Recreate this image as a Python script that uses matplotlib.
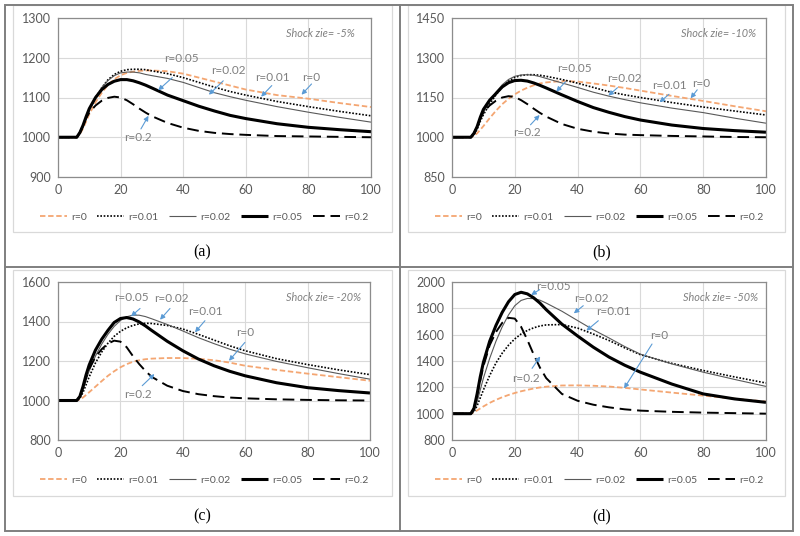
import matplotlib
matplotlib.use("Agg")
import matplotlib.pyplot as plt
from matplotlib.lines import Line2D
from matplotlib.patches import Rectangle

plt.rcParams["font.family"] = ["Lato", "DejaVu Sans"]

W, H = 800, 536

# time axis shared by all series
T = [0, 5, 6, 7, 8, 9, 10, 12, 14, 16, 18, 20, 22, 24, 26, 28, 30,
     35, 40, 45, 50, 55, 60, 70, 80, 90, 100]

labels = ["r=0", "r=0.01", "r=0.02", "r=0.05", "r=0.2"]

# (a) shock -5%
a_r0 = [1000, 1000, 1000, 1008, 1022, 1040, 1058, 1088, 1112, 1132, 1146, 1156, 1162, 1165, 1167, 1168, 1168,
        1166, 1160, 1150, 1140, 1130, 1120, 1106, 1097, 1086, 1076]
a_r001 = [1000, 1000, 1000, 1010, 1028, 1050, 1070, 1100, 1125, 1145, 1158, 1166, 1170, 1171, 1171, 1170, 1167,
          1160, 1150, 1138, 1126, 1115, 1106, 1090, 1077, 1065, 1054]
a_r002 = [1000, 1000, 1000, 1010, 1028, 1050, 1070, 1100, 1125, 1143, 1155, 1162, 1164, 1164, 1162, 1158, 1155,
          1148, 1138, 1125, 1112, 1102, 1093, 1077, 1063, 1050, 1038]
a_r005 = [1000, 1000, 1000, 1012, 1030, 1052, 1072, 1100, 1120, 1133, 1141, 1145, 1145, 1142, 1137, 1131, 1124,
          1106, 1092, 1078, 1066, 1055, 1047, 1034, 1025, 1019, 1014]
a_r02 = [1000, 1000, 1000, 1012, 1030, 1048, 1062, 1080, 1092, 1099, 1102, 1100, 1093, 1083, 1072, 1062, 1053,
         1036, 1024, 1016, 1011, 1008, 1006, 1003, 1002, 1001, 1000]

# (b) shock -10%
b_r0 = [1000, 1000, 1000, 1005, 1015, 1028, 1042, 1072, 1100, 1125, 1145, 1162, 1176, 1187, 1196, 1203, 1207,
        1212, 1210, 1203, 1195, 1186, 1176, 1156, 1137, 1117, 1098]
b_r001 = [1000, 1000, 1000, 1010, 1030, 1060, 1085, 1125, 1160, 1190, 1212, 1226, 1233, 1236, 1236, 1234, 1230,
          1218, 1204, 1188, 1172, 1160, 1150, 1131, 1114, 1099, 1084]
b_r002 = [1000, 1000, 1000, 1012, 1035, 1065, 1092, 1135, 1170, 1198, 1218, 1230, 1235, 1236, 1234, 1229, 1222,
          1205, 1188, 1170, 1155, 1142, 1130, 1110, 1093, 1072, 1053]
b_r005 = [1000, 1000, 1000, 1015, 1040, 1075, 1105, 1140, 1165, 1190, 1206, 1214, 1215, 1212, 1205, 1196, 1186,
          1160, 1135, 1112, 1094, 1078, 1065, 1046, 1033, 1025, 1019]
b_r02 = [1000, 1000, 1000, 1015, 1040, 1070, 1095, 1120, 1138, 1150, 1155, 1152, 1140, 1125, 1108, 1092, 1078,
         1050, 1032, 1021, 1014, 1010, 1008, 1005, 1003, 1001, 1000]

# (c) shock -20%
c_r0 = [1000, 1000, 1000, 1005, 1015, 1028, 1042, 1070, 1098, 1125, 1148, 1168, 1184, 1196, 1204, 1209, 1212,
        1215, 1215, 1211, 1204, 1192, 1176, 1155, 1136, 1118, 1100]
c_r001 = [1000, 1000, 1000, 1012, 1040, 1080, 1120, 1190, 1245, 1290, 1325, 1350, 1368, 1380, 1388, 1391, 1390,
          1380, 1362, 1335, 1306, 1277, 1252, 1212, 1182, 1155, 1131]
c_r002 = [1000, 1000, 1000, 1015, 1055, 1105, 1150, 1225, 1285, 1335, 1375, 1405, 1424, 1432, 1432, 1425, 1414,
          1385, 1352, 1318, 1288, 1260, 1236, 1198, 1166, 1136, 1108]
c_r005 = [1000, 1000, 1000, 1020, 1070, 1130, 1180, 1255, 1310, 1355, 1395, 1415, 1420, 1413, 1398, 1378, 1355,
          1300, 1252, 1210, 1176, 1148, 1125, 1090, 1065, 1050, 1038]
c_r02 = [1000, 1000, 1000, 1020, 1065, 1115, 1160, 1220, 1260, 1288, 1303, 1298, 1270, 1225, 1185, 1150, 1120,
         1075, 1048, 1032, 1022, 1015, 1011, 1006, 1003, 1001, 1000]

# (d) shock -50%
d_r0 = [1000, 1000, 1000, 1010, 1025, 1040, 1055, 1082, 1105, 1125, 1142, 1157, 1170, 1181, 1191, 1199, 1205,
        1214, 1215, 1212, 1206, 1196, 1184, 1160, 1137, 1114, 1092]
d_r001 = [1000, 1000, 1000, 1015, 1060, 1120, 1180, 1290, 1385, 1460, 1520, 1568, 1605, 1632, 1652, 1666, 1674,
          1677, 1650, 1605, 1556, 1500, 1448, 1382, 1328, 1279, 1233]
d_r002 = [1000, 1000, 1000, 1020, 1090, 1180, 1270, 1420, 1550, 1660, 1750, 1820, 1860, 1875, 1874, 1862, 1840,
          1778, 1707, 1637, 1575, 1510, 1452, 1378, 1315, 1260, 1207]
d_r005 = [1000, 1000, 1000, 1040, 1150, 1280, 1390, 1550, 1670, 1770, 1850, 1905, 1922, 1910, 1880, 1840, 1790,
          1680, 1590, 1505, 1430, 1368, 1315, 1225, 1150, 1112, 1086]
d_r02 = [1000, 1000, 1000, 1040, 1140, 1250, 1360, 1520, 1620, 1690, 1728, 1722, 1660, 1560, 1450, 1350, 1270,
         1150, 1098, 1068, 1048, 1033, 1023, 1014, 1008, 1004, 1000]

styles = [
    dict(color="#F4A672", lw=1.3, dashes=(3, 1.5)),
    dict(color="black", lw=1.2, dashes=(1, 1)),
    dict(color="#595959", lw=0.8),
    dict(color="black", lw=2.2),
    dict(color="black", lw=1.4, dashes=(6, 3)),
]

# annotation: label, text pos, arrow tail, arrow head
panels = [
    dict(series=[a_r0, a_r001, a_r002, a_r005, a_r02], ylim=(900, 1300), step=100,
         box=(58, 371, 18, 177), legend=(204, 217), cap="(a)", capxy=(202, 252),
         shock="Shock zie= -5%", shockxy=(84, 1262),
         notes=[("r=0.05", (39.5, 1199), (36.5, 1150), (32, 1118)),
                ("r=0.02", (54.5, 1167), (52.8, 1142), (48.2, 1107)),
                ("r=0.01", (68.5, 1150), (68.3, 1130), (64.9, 1102)),
                ("r=0", (81, 1150), (81, 1134), (77.8, 1107)),
                ("r=0.2", (25.5, 1000), (26.5, 1021), (28.9, 1054))]),
    dict(series=[b_r0, b_r001, b_r002, b_r005, b_r02], ylim=(850, 1450), step=150,
         box=(452, 766, 18, 177), legend=(599, 217), cap="(b)", capxy=(602, 252),
         shock="Shock zie= -10%", shockxy=(85, 1392),
         notes=[("r=0.05", (38.9, 1258), (36.2, 1210), (33.2, 1172)),
                ("r=0.02", (54.8, 1223), (52.7, 1187), (49.8, 1157)),
                ("r=0.01", (69.3, 1197), (69.1, 1162), (66.1, 1132)),
                ("r=0", (79.5, 1204), (78.1, 1179), (76, 1147)),
                ("r=0.2", (24, 1019), (25, 1047), (27.9, 1084))]),
    dict(series=[c_r0, c_r001, c_r002, c_r005, c_r02], ylim=(800, 1600), step=200,
         box=(58, 370, 282, 440), legend=(204, 480), cap="(c)", capxy=(202, 516),
         shock="Shock zie= -20%", shockxy=(85, 1522),
         notes=[("r=0.05", (23.6, 1522), (26.3, 1466), (23.4, 1426)),
                ("r=0.02", (36.4, 1514), (35.9, 1466), (32.7, 1409)),
                ("r=0.01", (47.1, 1451), (47.1, 1404), (43.9, 1345)),
                ("r=0", (59.9, 1345), (59.9, 1294), (54.8, 1201)),
                ("r=0.2", (25.5, 1028), (27, 1075), (30.9, 1134))]),
    dict(series=[d_r0, d_r001, d_r002, d_r005, d_r02], ylim=(800, 2000), step=200,
         box=(452, 766, 282, 440), legend=(599, 480), cap="(d)", capxy=(602, 516),
         shock="Shock zie= -50%", shockxy=(85.6, 1884),
         notes=[("r=0.05", (32.2, 1967), (27.9, 1942), (25.2, 1901)),
                ("r=0.02", (44.4, 1871), (41.8, 1820), (38.8, 1762)),
                ("r=0.01", (51.4, 1775), (46.6, 1706), (42.8, 1630)),
                ("r=0", (66.1, 1592), (63.7, 1529), (54.8, 1192)),
                ("r=0.2", (23.6, 1268), (25.5, 1344), (28.1, 1435))]),
]

fig = plt.figure(figsize=(W / 100, H / 100), dpi=100)

# outer frame, dividers and chart-area boxes
for x0, y0, x1, y1 in [(13, 5, 392, 232), (408, 5, 785, 232), (13, 270, 392, 496), (408, 270, 785, 496)]:
    fig.add_artist(Rectangle((x0 / W, 1 - y1 / H), (x1 - x0) / W, (y1 - y0) / H,
                             transform=fig.transFigure, fill=False, ec="#D9D9D9", lw=0.9))
fig.add_artist(Rectangle((4.5 / W, 1 - 531 / H), 788.5 / W, 526 / H,
                         transform=fig.transFigure, fill=False, ec="#7F7F7F", lw=1.4))
fig.add_artist(Line2D([399.5 / W] * 2, [1 - 5 / H, 1 - 531 / H], color="#7F7F7F", lw=1.4))
fig.add_artist(Line2D([4.5 / W, 793 / W], [1 - 267 / H] * 2, color="#7F7F7F", lw=1.4))

for p in panels:
    l, r, t, b = p["box"]
    ax = fig.add_axes([l / W, 1 - b / H, (r - l) / W, (b - t) / H])
    handles = []
    for ys, st, lab in zip(p["series"], styles, labels):
        ln, = ax.plot(T, ys, label=lab, solid_capstyle="butt", **st)
        handles.append(ln)
    y0, y1 = p["ylim"]
    ax.set_xlim(0, 100)
    ax.set_ylim(y0, y1)
    ax.set_xticks(range(0, 101, 20))
    ax.set_yticks(range(y0, y1 + 1, p["step"]))
    ax.grid(True, color="#D9D9D9", lw=0.8)
    ax.set_axisbelow(True)
    ax.tick_params(length=0, labelsize=9, labelcolor="#595959", pad=5)
    for s in ax.spines.values():
        s.set_color("#8C8C8C")
        s.set_linewidth(0.9)

    for lab, txy, tail, head in p["notes"]:
        ax.text(*txy, lab, fontsize=8.5, color="#7F7F7F", ha="center", va="center")
        ax.annotate("", xy=head, xytext=tail,
                    arrowprops=dict(arrowstyle="-|>", color="#5B9BD5", lw=0.8,
                                    mutation_scale=7, shrinkA=0, shrinkB=0))
    ax.text(*p["shockxy"], p["shock"], fontsize=7.8, color="#808080", style="italic",
            ha="center", va="center")

    cx, cy = p["legend"]
    ax.legend(handles=handles, loc="center", bbox_to_anchor=(cx / W, 1 - cy / H),
              bbox_transform=fig.transFigure, ncol=5, frameon=False, fontsize=7.5,
              handlelength=2.6, columnspacing=1.0, handletextpad=0.4, labelcolor="#595959")

    fx, fy = p["capxy"]
    fig.text(fx / W, 1 - fy / H, p["cap"], fontsize=11.5, family="Liberation Serif",
             ha="center", va="center")

fig.savefig("out.png", dpi=100)
